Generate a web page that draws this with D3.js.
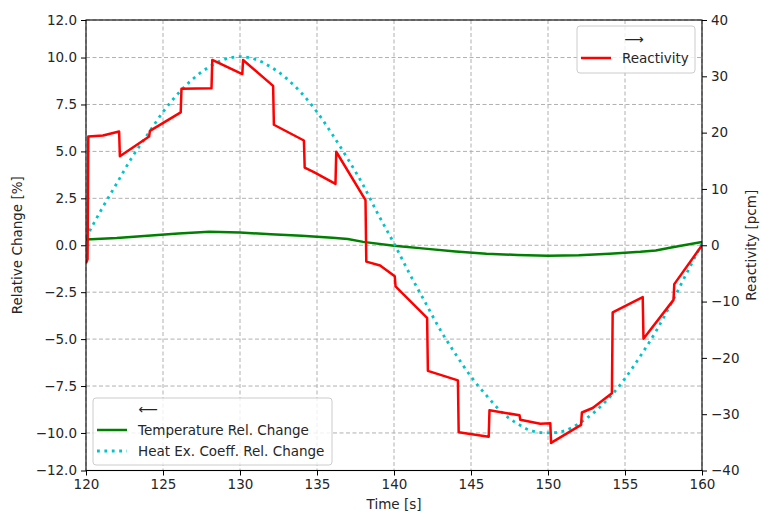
<!DOCTYPE html>
<html>
<head>
<meta charset="utf-8">
<script src="https://cdn.jsdelivr.net/npm/d3@7"></script>
<style>
  html, body { margin: 0; padding: 0; background: #fff; }
  svg text { font-family: "DejaVu Sans", sans-serif; fill: #262626; }
</style>
</head>
<body>
<svg id="chart" width="761" height="516"></svg>
<script>
// ---- Data ----
const xTicks = [120, 125, 130, 135, 140, 145, 150, 155, 160];
const leftTicks = [-12, -10, -7.5, -5, -2.5, 0, 2.5, 5, 7.5, 10, 12];
const rightTicks = [-40, -30, -20, -10, 0, 10, 20, 30, 40];

// Temperature relative change [%] (left axis)
const tempT = [120, 122, 124, 126, 128, 130, 132, 134, 136, 137, 138, 140, 142, 144, 146, 148, 150, 152, 154, 156, 157, 158, 160];
const tempV = [0.3, 0.38, 0.5, 0.63, 0.72, 0.68, 0.58, 0.5, 0.4, 0.33, 0.18, -0.03, -0.18, -0.33, -0.45, -0.52, -0.56, -0.53, -0.45, -0.35, -0.28, -0.12, 0.18];

// Heat exchange coefficient relative change [%] (left axis)
const heatT = [120, 121, 122, 123, 124, 125, 126, 127, 128, 129, 130, 131, 132, 133, 134, 135, 136, 137, 138, 139, 140,
               141, 142, 143, 144, 145, 146, 147, 148, 149, 150, 151, 152, 153, 154, 155, 156, 157, 158, 159, 160];
const heatV = [0.4, 1.9, 3.3, 4.7, 5.9, 7.1, 8.1, 8.9, 9.5, 9.9, 10.05, 9.9, 9.5, 8.9, 8.1, 7.1, 5.9, 4.6, 3.2, 1.6, 0.1,
               -1.5, -3.0, -4.5, -5.8, -7.0, -8.0, -8.9, -9.5, -9.9, -10.0, -9.9, -9.5, -8.9, -8.1, -7.1, -5.9, -4.6, -3.1, -1.5, 0.1];

// Reactivity [pcm] (right axis)
const reactT = [120, 120.1, 120.15, 121.1, 122.15, 122.2, 124.1, 124.15, 126.15, 126.2, 128.15, 128.2, 130.15, 130.2,
                132.15, 132.2, 134.15, 134.2, 134.8, 136.2, 136.25, 138.15, 138.2, 139.1, 140.05, 140.1, 142.15, 142.2,
                144.15, 144.2, 146.15, 146.2, 148.15, 148.2, 149.5, 150.15, 150.2, 152.15, 152.2, 152.9, 154.15, 154.2,
                156.15, 156.2, 158.15, 158.2, 160];
const reactV = [-3.2, -2.5, 19.3, 19.5, 20.2, 15.8, 19.3, 20.3, 23.6, 27.8, 27.9, 32.9, 30.4, 32.9,
                28.3, 21.4, 18.6, 13.8, 13.0, 10.9, 16.6, 8.0, -2.9, -3.6, -5.5, -7.3, -12.9, -22.3,
                -24.0, -33.2, -34.0, -29.3, -30.2, -31.0, -31.7, -31.6, -35.1, -31.9, -29.7, -28.9, -26.3, -11.9,
                -9.2, -16.6, -9.7, -6.9, 0.0];

// ---- Layout ----
const svg = d3.select("#chart");
const L = 86, R = 702, T = 20, B = 470.5;
const FONT = 13.5;

const x = d3.scaleLinear().domain([120, 160]).range([L, R]);
const yL = d3.scaleLinear().domain([-12, 12]).range([B, T]);
const yR = d3.scaleLinear().domain([-40, 40]).range([B, T]);

// grid
const grid = svg.append("g");
grid.selectAll("line.v").data(xTicks).join("line")
  .attr("x1", d => x(d)).attr("x2", d => x(d)).attr("y1", T).attr("y2", B)
  .attr("stroke", "#b0b0b0").attr("stroke-width", 1).attr("stroke-dasharray", "4,2.5");
grid.selectAll("line.h").data(leftTicks).join("line")
  .attr("x1", L).attr("x2", R).attr("y1", d => yL(d)).attr("y2", d => yL(d))
  .attr("stroke", "#b0b0b0").attr("stroke-width", 1).attr("stroke-dasharray", "4,2.5");

// lines
const clipId = "plotclip";
svg.append("clipPath").attr("id", clipId).append("rect")
  .attr("x", L).attr("y", T).attr("width", R - L).attr("height", B - T);
const plot = svg.append("g").attr("clip-path", `url(#${clipId})`);

const lineL = d3.line().x(d => x(d[0])).y(d => yL(d[1]));
const lineR = d3.line().x(d => x(d[0])).y(d => yR(d[1]));

plot.append("path").datum(tempT.map((t, i) => [t, tempV[i]]))
  .attr("d", lineL).attr("fill", "none").attr("stroke", "#008000").attr("stroke-width", 2.5);
plot.append("path").datum(heatT.map((t, i) => [t, heatV[i]]))
  .attr("d", d3.line().curve(d3.curveMonotoneX).x(d => x(d[0])).y(d => yL(d[1])))
  .attr("fill", "none").attr("stroke", "#00c5c8").attr("stroke-width", 2.8)
  .attr("stroke-dasharray", "2.8,4.6");
plot.append("path").datum(reactT.map((t, i) => [t, reactV[i]]))
  .attr("d", lineR).attr("fill", "none").attr("stroke", "#ff0000").attr("stroke-width", 2.5)
  .attr("stroke-linejoin", "round");

// axes
function styleAxis(g) {
  g.selectAll("path.domain").remove();
  g.selectAll(".tick line").attr("stroke", "#000").attr("stroke-width", 1);
  g.selectAll(".tick text").attr("font-size", FONT).attr("font-family", "DejaVu Sans").attr("fill", "#262626");
}
svg.append("g").attr("transform", `translate(0,${B})`)
  .call(d3.axisBottom(x).tickValues(xTicks).tickFormat(d3.format("d")).tickSize(5).tickPadding(4))
  .call(styleAxis);
svg.append("g").attr("transform", `translate(${L},0)`)
  .call(d3.axisLeft(yL).tickValues(leftTicks).tickFormat(d => d3.format(".1f")(d).replace("-", "\u2212")).tickSize(5).tickPadding(4))
  .call(styleAxis);
svg.append("g").attr("transform", `translate(${R},0)`)
  .call(d3.axisRight(yR).tickValues(rightTicks).tickFormat(d => String(d).replace("-", "\u2212")).tickSize(5).tickPadding(4))
  .call(styleAxis);

// frame
svg.append("rect").attr("x", L).attr("y", T).attr("width", R - L).attr("height", B - T)
  .attr("fill", "none").attr("stroke", "#000").attr("stroke-width", 1.1);

// axis labels
svg.append("text").attr("x", (L + R) / 2).attr("y", 509).attr("text-anchor", "middle")
  .attr("font-size", FONT).text("Time [s]");
svg.append("text").attr("transform", `translate(22,${(T + B) / 2}) rotate(-90)`).attr("text-anchor", "middle")
  .attr("font-size", FONT).text("Relative Change [%]");
svg.append("text").attr("transform", `translate(756,${(T + B) / 2}) rotate(-90)`).attr("text-anchor", "middle")
  .attr("font-size", FONT).text("Reactivity [pcm]");

// legends
function legendBox(x0, y0, w, h) {
  svg.append("rect").attr("x", x0).attr("y", y0).attr("width", w).attr("height", h).attr("rx", 3)
    .attr("fill", "#fff").attr("fill-opacity", 0.8).attr("stroke", "#cccccc").attr("stroke-width", 1);
}
// lower-left
legendBox(93, 398, 239, 67);
svg.append("text").attr("x", 148).attr("y", 414).attr("text-anchor", "middle").attr("font-size", FONT).text("\u27F5");
svg.append("line").attr("x1", 97).attr("x2", 127).attr("y1", 430).attr("y2", 430)
  .attr("stroke", "#008000").attr("stroke-width", 2.5);
svg.append("text").attr("x", 138).attr("y", 435).attr("font-size", FONT).text("Temperature Rel. Change");
svg.append("line").attr("x1", 97).attr("x2", 127).attr("y1", 451).attr("y2", 451)
  .attr("stroke", "#00c5c8").attr("stroke-width", 2.8).attr("stroke-dasharray", "2.8,4.6");
svg.append("text").attr("x", 138).attr("y", 456).attr("font-size", FONT).text("Heat Ex. Coeff. Rel. Change");
// upper-right
legendBox(577, 26, 118, 47);
svg.append("text").attr("x", 634).attr("y", 44).attr("text-anchor", "middle").attr("font-size", FONT).text("\u27F6");
svg.append("line").attr("x1", 581).attr("x2", 611).attr("y1", 58).attr("y2", 58)
  .attr("stroke", "#ff0000").attr("stroke-width", 2.5);
svg.append("text").attr("x", 622).attr("y", 63).attr("font-size", FONT).text("Reactivity");
</script>
</body>
</html>
